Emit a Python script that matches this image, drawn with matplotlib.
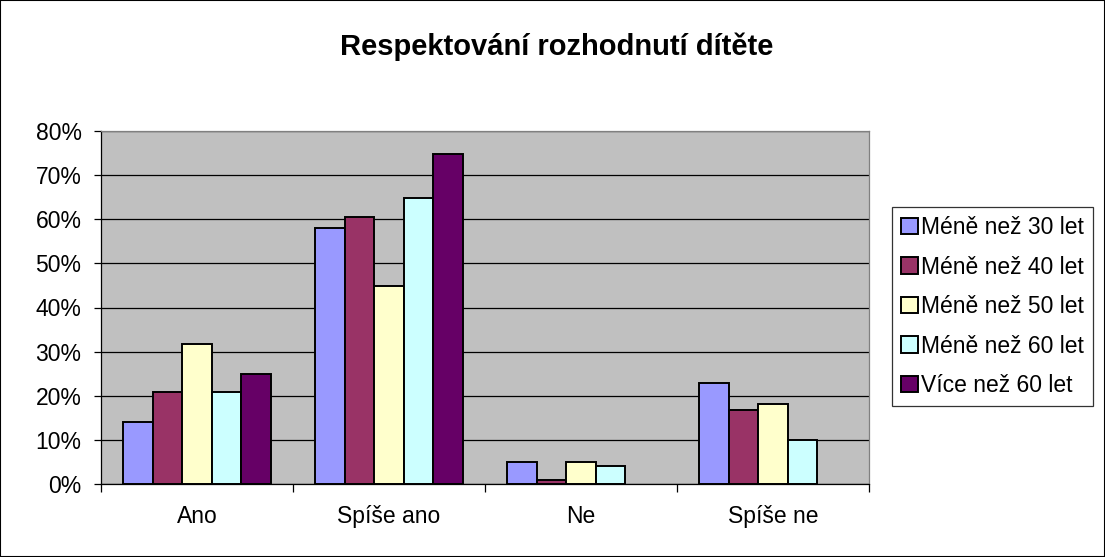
import matplotlib.pyplot as plt
import numpy as np
from matplotlib.patches import Rectangle

plt.rcParams["font.family"] = ["Liberation Sans", "DejaVu Sans"]

categories = ["Ano", "Spíše ano", "Ne", "Spíše ne"]
series_names = ["Méně než 30 let", "Méně než 40 let", "Méně než 50 let",
                "Méně než 60 let", "Více než 60 let"]
pod_30 = [14, 58, 5, 23]
pod_40 = [20.8, 60.6, 0.8, 16.7]
pod_50 = [31.7, 44.8, 5, 18.2]
pod_60 = [20.8, 64.8, 4, 10]
nad_60 = [25, 74.8, 0, 0]
values = [pod_30, pod_40, pod_50, pod_60, nad_60]
colors = ["#9999FF", "#993366", "#FFFFCC", "#CCFFFF", "#660066"]

fig = plt.figure(figsize=(11.05, 5.57), dpi=100)
ax = fig.add_axes([101 / 1105, 1 - 484 / 557, 768 / 1105, 353 / 557])
ax.set_facecolor("#C0C0C0")

x = np.arange(len(categories))
width = 1 / 6.5
for i, (name, vals, c) in enumerate(zip(series_names, values, colors)):
    lw = [1.4 if v > 0 else 0 for v in vals]
    ax.bar(x + (i - 2) * width, vals, width, color=c, edgecolor="black",
           linewidth=lw, label=name, zorder=3)

ax.set_xlim(-0.5, len(categories) - 0.5)
ax.set_ylim(0, 80)
ax.set_yticks(range(0, 81, 10))
ax.set_yticklabels([f"{v}%" for v in range(0, 81, 10)], fontsize=16.5)
ax.yaxis.grid(True, color="black", linewidth=0.9, zorder=1)
ax.set_xticks(x)
ax.set_xticklabels(categories, fontsize=16.5)
ax.tick_params(axis="x", length=0, pad=15)
ax.set_xticks(np.arange(-0.5, len(categories), 1), minor=True)
ax.tick_params(axis="x", which="minor", length=6, width=0.9, color="black")
ax.tick_params(axis="y", length=5, width=0.9, pad=9)
for side in ["left", "bottom"]:
    ax.spines[side].set_color("black")
    ax.spines[side].set_linewidth(0.9)
for side in ["top", "right"]:
    ax.spines[side].set_color("#808080")
    ax.spines[side].set_linewidth(0.9)

fig.text(557 / 1105, 1 - 55 / 557, "Respektování rozhodnutí dítěte",
         ha="center", va="baseline", fontsize=21, fontweight="bold")

leg = fig.legend(loc="upper left", bbox_to_anchor=(892 / 1105, 1 - 207 / 557),
                 fontsize=16.5, frameon=True, fancybox=False, edgecolor="black",
                 borderpad=0.4, labelspacing=0.72, handlelength=0.72,
                 handleheight=0.72, handletextpad=0.15, borderaxespad=0)
leg.get_frame().set_linewidth(0.9)

fig.patches.append(Rectangle((0, 0), 1, 1, transform=fig.transFigure,
                             fill=False, edgecolor="black", linewidth=1.5))

fig.savefig("out.png", dpi=100)
